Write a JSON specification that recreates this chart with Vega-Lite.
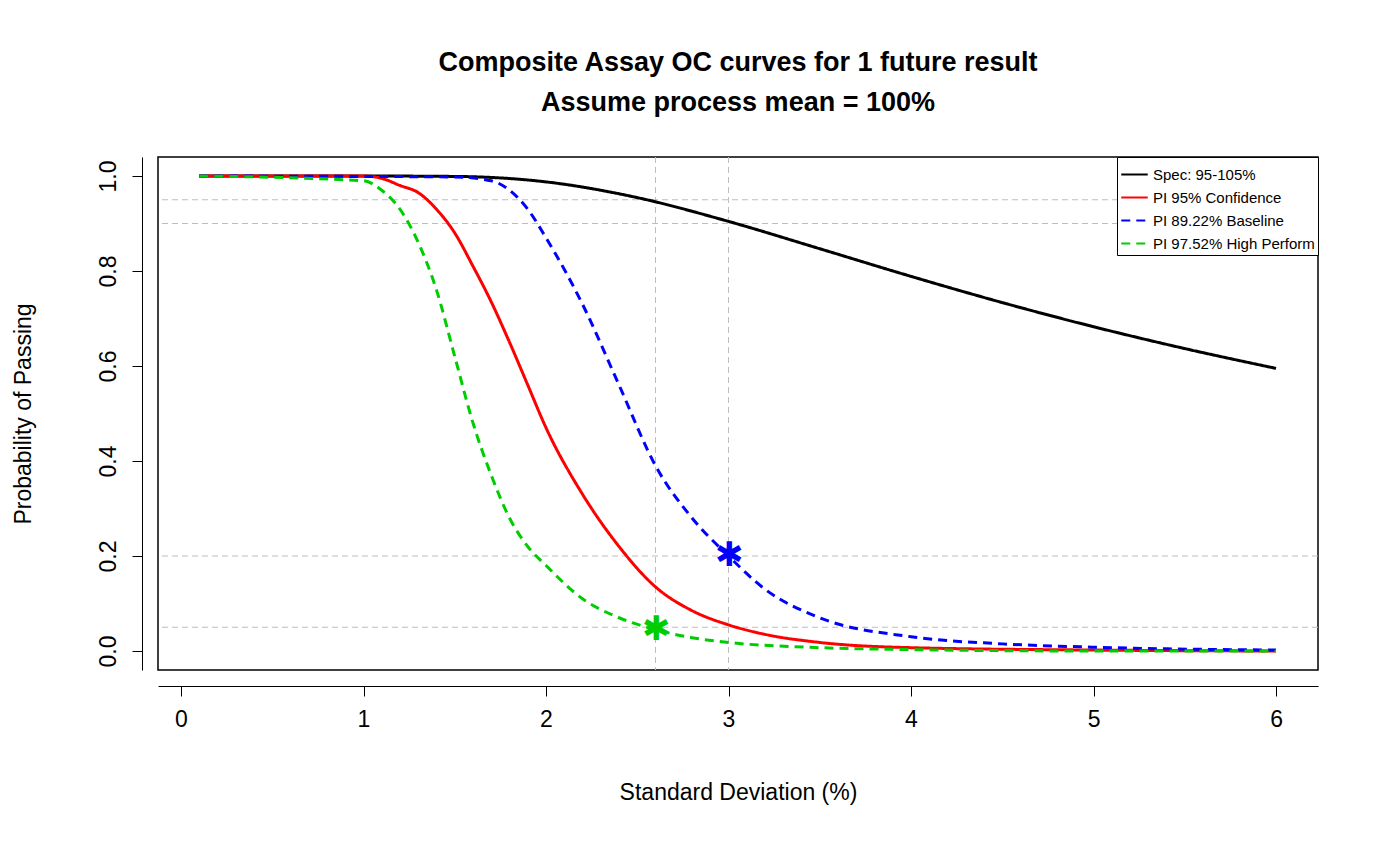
{
"$schema":"https://vega.github.io/schema/vega-lite/v6.json",
"width":1160,"height":513,
"autosize":{"type":"none"},
"padding":{"left":158,"top":157,"right":82,"bottom":196},
"background":"white",
"config":{"view":{"stroke":"black","strokeWidth":1.5},"font":"Liberation Sans"},
"title":{"text":["Composite Assay OC curves for 1 future result","Assume process mean = 100%"],"fontSize":27,"fontWeight":"bold","offset":40,"lineHeight":40,"anchor":"middle","color":"black"},
"datasets":{
"curves":[
{"s":"Spec: 95-105%","x":0.1,"y":1},{"s":"Spec: 95-105%","x":1,"y":1},{"s":"Spec: 95-105%","x":1.5,"y":0.9991},{"s":"Spec: 95-105%","x":2,"y":0.9876},{"s":"Spec: 95-105%","x":2.5,"y":0.9545},{"s":"Spec: 95-105%","x":3,"y":0.9044},{"s":"Spec: 95-105%","x":3.5,"y":0.8469},{"s":"Spec: 95-105%","x":4,"y":0.7887},{"s":"Spec: 95-105%","x":4.5,"y":0.7335},{"s":"Spec: 95-105%","x":5,"y":0.6827},{"s":"Spec: 95-105%","x":5.5,"y":0.6367},{"s":"Spec: 95-105%","x":6,"y":0.595},
{"s":"PI 95% Confidence","x":0.1,"y":1},{"s":"PI 95% Confidence","x":1,"y":1},{"s":"PI 95% Confidence","x":1.1,"y":0.995},{"s":"PI 95% Confidence","x":1.2,"y":0.98},{"s":"PI 95% Confidence","x":1.3,"y":0.965},{"s":"PI 95% Confidence","x":1.4,"y":0.93},{"s":"PI 95% Confidence","x":1.5,"y":0.88},{"s":"PI 95% Confidence","x":1.6,"y":0.81},{"s":"PI 95% Confidence","x":1.7,"y":0.735},{"s":"PI 95% Confidence","x":1.8,"y":0.65},{"s":"PI 95% Confidence","x":1.9,"y":0.56},{"s":"PI 95% Confidence","x":2.0,"y":0.47},{"s":"PI 95% Confidence","x":2.2,"y":0.33},{"s":"PI 95% Confidence","x":2.4,"y":0.22},{"s":"PI 95% Confidence","x":2.6,"y":0.135},{"s":"PI 95% Confidence","x":2.8,"y":0.085},{"s":"PI 95% Confidence","x":3.0,"y":0.055},{"s":"PI 95% Confidence","x":3.2,"y":0.035},{"s":"PI 95% Confidence","x":3.5,"y":0.018},{"s":"PI 95% Confidence","x":4,"y":0.007},{"s":"PI 95% Confidence","x":5,"y":0.002},{"s":"PI 95% Confidence","x":6,"y":0},
{"s":"PI 89.22% Baseline","x":0.1,"y":1},{"s":"PI 89.22% Baseline","x":1.5,"y":0.998},{"s":"PI 89.22% Baseline","x":1.7,"y":0.99},{"s":"PI 89.22% Baseline","x":1.8,"y":0.97},{"s":"PI 89.22% Baseline","x":1.9,"y":0.93},{"s":"PI 89.22% Baseline","x":2.0,"y":0.87},{"s":"PI 89.22% Baseline","x":2.2,"y":0.73},{"s":"PI 89.22% Baseline","x":2.4,"y":0.56},{"s":"PI 89.22% Baseline","x":2.6,"y":0.39},{"s":"PI 89.22% Baseline","x":2.8,"y":0.28},{"s":"PI 89.22% Baseline","x":3.0,"y":0.2},{"s":"PI 89.22% Baseline","x":3.2,"y":0.13},{"s":"PI 89.22% Baseline","x":3.5,"y":0.07},{"s":"PI 89.22% Baseline","x":4,"y":0.03},{"s":"PI 89.22% Baseline","x":4.5,"y":0.015},{"s":"PI 89.22% Baseline","x":5,"y":0.008},{"s":"PI 89.22% Baseline","x":6,"y":0.002},
{"s":"PI 97.52% High Perform","x":0.1,"y":1},{"s":"PI 97.52% High Perform","x":1.0,"y":0.99},{"s":"PI 97.52% High Perform","x":1.1,"y":0.97},{"s":"PI 97.52% High Perform","x":1.2,"y":0.93},{"s":"PI 97.52% High Perform","x":1.3,"y":0.86},{"s":"PI 97.52% High Perform","x":1.4,"y":0.76},{"s":"PI 97.52% High Perform","x":1.5,"y":0.62},{"s":"PI 97.52% High Perform","x":1.6,"y":0.48},{"s":"PI 97.52% High Perform","x":1.7,"y":0.37},{"s":"PI 97.52% High Perform","x":1.8,"y":0.28},{"s":"PI 97.52% High Perform","x":1.9,"y":0.22},{"s":"PI 97.52% High Perform","x":2.0,"y":0.18},{"s":"PI 97.52% High Perform","x":2.2,"y":0.11},{"s":"PI 97.52% High Perform","x":2.4,"y":0.07},{"s":"PI 97.52% High Perform","x":2.6,"y":0.045},{"s":"PI 97.52% High Perform","x":2.8,"y":0.028},{"s":"PI 97.52% High Perform","x":3.0,"y":0.018},{"s":"PI 97.52% High Perform","x":3.5,"y":0.007},{"s":"PI 97.52% High Perform","x":4,"y":0.003},{"s":"PI 97.52% High Perform","x":5,"y":0},{"s":"PI 97.52% High Perform","x":6,"y":0}
],
"hl":[{"y":0.95},{"y":0.9},{"y":0.2},{"y":0.05}],
"vl":[{"x":2.6},{"x":3}],
"stars":[{"x":3,"y":0.2,"c":"blue"},{"x":2.6,"y":0.045,"c":"#00cd00"}]
},
"layer":[
{"data":{"name":"hl"},"mark":{"type":"rule","color":"#bebebe","strokeDash":[6,4]},"encoding":{"y":{"field":"y","type":"quantitative"}}},
{"data":{"name":"vl"},"mark":{"type":"rule","color":"#bebebe","strokeDash":[6,4]},"encoding":{"x":{"field":"x","type":"quantitative"}}},
{"data":{"name":"curves"},"mark":{"type":"line","strokeWidth":3,"interpolate":"monotone"},
"encoding":{
"x":{"field":"x","type":"quantitative","scale":{"domain":[-0.126,6.23],"nice":false,"zero":false},
"axis":{"values":[0,1,2,3,4,5,6],"format":"d","title":"Standard Deviation (%)","titleFontSize":23,"titleFontWeight":"normal","titlePadding":50,"labelFontSize":23,"labelPadding":12,"tickSize":10,"offset":16,"grid":false,"domainColor":"black","tickColor":"black","labelColor":"black","titleColor":"black"}},
"y":{"field":"y","type":"quantitative","scale":{"domain":[-0.04,1.04],"nice":false,"zero":false},
"axis":{"values":[0,0.2,0.4,0.6,0.8,1],"format":".1f","title":"Probability of Passing","titleFontSize":23,"titleFontWeight":"normal","titlePadding":62,"labelFontSize":23,"labelAngle":-90,"labelAlign":"center","labelBaseline":"bottom","labelPadding":12,"tickSize":10,"offset":16,"grid":false,"domainColor":"black","tickColor":"black","labelColor":"black","titleColor":"black"}},
"color":{"field":"s","type":"nominal","scale":{"domain":["Spec: 95-105%","PI 95% Confidence","PI 89.22% Baseline","PI 97.52% High Perform"],"range":["black","red","blue","#00cd00"]},
"legend":{"title":null,"orient":"top-right","offset":0,"labelFontSize":15,"labelColor":"black","symbolType":"stroke","symbolStrokeWidth":2,"symbolSize":700,"rowPadding":-5,"strokeColor":"black","fillColor":"white","padding":3,"labelLimit":400}},
"strokeDash":{"field":"s","type":"nominal","scale":{"domain":["Spec: 95-105%","PI 95% Confidence","PI 89.22% Baseline","PI 97.52% High Perform"],"range":[[1,0],[1,0],[9,6],[9,6]]},"legend":null}
}},
{"data":{"name":"stars"},"mark":{"type":"text","text":"✱","fontSize":34,"baseline":"middle","align":"center"},
"encoding":{"x":{"field":"x","type":"quantitative"},"y":{"field":"y","type":"quantitative"},"color":{"field":"c","type":"nominal","scale":null}}}
]
}
